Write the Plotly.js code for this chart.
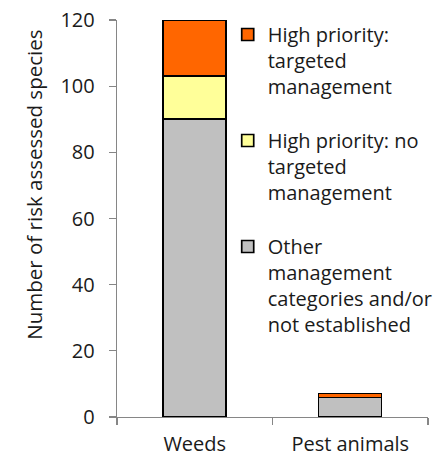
<!DOCTYPE html>
<html>
<head>
<meta charset="utf-8">
<script src="https://cdn.plot.ly/plotly-3.0.1.min.js"></script>
<style>html,body{margin:0;padding:0;background:#fff;}#chart{width:442px;height:457px;}</style>
</head>
<body>
<div id="chart"></div>
<script>
const categories = ["Weeds", "Pest animals"];
const otherValues = [90, 6];
const highNoTargetValues = [13, 0];
const highTargetedValues = [17, 1];
const seriesNames = [
  "Other<br>management<br>categories and/or<br>not established",
  "High priority: no<br>targeted<br>management",
  "High priority:<br>targeted<br>management"
];
const seriesColors = ["#C0C0C0", "#FFFF99", "#FF6600"];
const yTicks = [0, 20, 40, 60, 80, 100, 120];

const FONT = "Open Sans, sans-serif";
const seriesValues = [otherValues, highNoTargetValues, highTargetedValues];
const traces = seriesValues.map((vals, i) => ({
  type: "bar",
  x: categories,
  y: vals,
  name: seriesNames[i],
  legendgroup: "g" + i,
  legendrank: 3 - i,
  marker: {color: seriesColors[i], line: {color: "#000000", width: [1.7, 1.2]}},
  hoverinfo: "x+y+name"
}));

const layout = {
  width: 442, height: 457,
  margin: {l: 117, r: 14, t: 20, b: 40, pad: 0, autoexpand: false},
  barmode: "stack",
  bargap: 0.595,
  paper_bgcolor: "#ffffff",
  plot_bgcolor: "#ffffff",
  font: {family: FONT, size: 20, color: "#1a1a1a"},
  showlegend: true,
  legend: {
    x: 0.356, xanchor: "left", y: 1.0126, yanchor: "top",
    traceorder: "grouped",
    tracegroupgap: 25,
    valign: "top",
    maxheight: 440,
    bgcolor: "rgba(0,0,0,0)",
    font: {family: FONT, size: 20, color: "#1a1a1a"}
  },
  xaxis: {
    type: "category",
    showline: true, linecolor: "#868686", linewidth: 1.3,
    ticks: "outside", tickson: "boundaries", ticklen: 7, tickcolor: "#868686", tickwidth: 1.3,
    ticklabelstandoff: 9,
    showgrid: false, zeroline: false,
    tickfont: {family: FONT, size: 20, color: "#1a1a1a"},
    range: [-0.5, 1.5],
    fixedrange: true
  },
  yaxis: {
    range: [0, 120],
    tickvals: yTicks,
    ticktext: yTicks.map(String),
    showline: true, linecolor: "#868686", linewidth: 1.3,
    ticks: "outside", ticklen: 7, tickcolor: "#868686", tickwidth: 1.3,
    ticklabelstandoff: 10,
    showgrid: false, zeroline: false,
    tickfont: {family: FONT, size: 20, color: "#1a1a1a"},
    fixedrange: true
  },
  annotations: [{
    text: "Number of risk assessed species",
    textangle: -90,
    xref: "paper", yref: "paper",
    x: -0.267, y: 0.585,
    xanchor: "center", yanchor: "middle",
    showarrow: false,
    font: {family: FONT, size: 20.5, color: "#1a1a1a"}
  }]
};

Plotly.newPlot("chart", traces, layout, {displayModeBar: false, staticPlot: true});
</script>
</body>
</html>
